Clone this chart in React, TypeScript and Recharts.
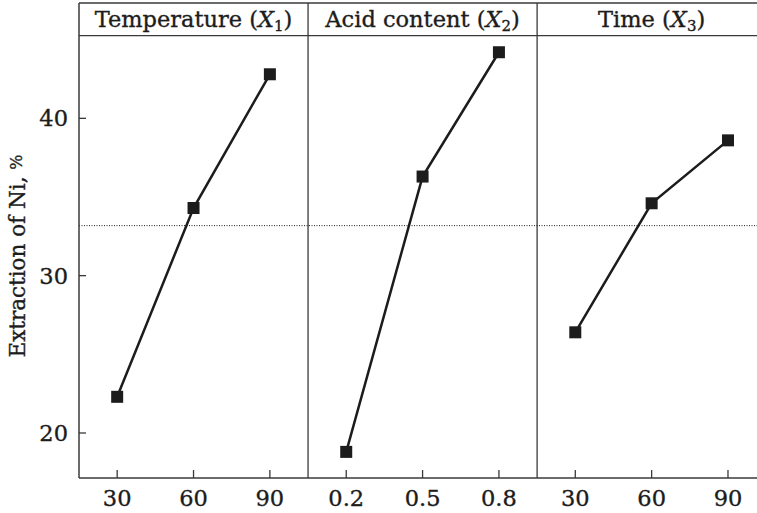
import { ComposedChart, Line, XAxis, YAxis, ReferenceLine, ReferenceArea } from 'recharts';

const tempLevels = ['30', '60', '90'];
const tempValues = [22.3, 34.3, 42.8];
const acidLevels = ['0.2', '0.5', '0.8'];
const acidValues = [18.8, 36.3, 44.2];
const timeLevels = ['30', '60', '90'];
const timeValues = [26.4, 34.6, 38.6];

const meanExtraction = 33.18;
const yTicks = [20, 30, 40];

const panels = [
  { key: 'temp', name: 'Temperature', sub: '1', levels: tempLevels, values: tempValues },
  { key: 'acid', name: 'Acid content', sub: '2', levels: acidLevels, values: acidValues },
  { key: 'time', name: 'Time', sub: '3', levels: timeLevels, values: timeValues },
];

const allLevels = panels.flatMap((p) => p.levels);
const rows = panels.flatMap((p, pi) =>
  p.levels.map((_, i) => ({ pos: pi * 3 + i + 0.5, [p.key]: p.values[i] }))
);

const Y_MIN = 17.14;
const Y_MAX = 47.33;
const HEADER_Y = 45.26;
const X_MAX = 8.88;

const FONT = '"DejaVu Serif", "Liberation Serif", serif';
const INK = '#1c1c1c';
const AXIS = '#3a3a3a';

// slight outline so the serif text looks as heavy as the printed figure
const heavy = { stroke: INK, strokeWidth: 0.35 };

function SquareDot(props: any) {
  const { cx, cy } = props;
  if (cx == null || cy == null) return null;
  return <rect x={cx - 6} y={cy - 6} width={12} height={12} fill={INK} />;
}

function YTick(props: any) {
  const { x, y, payload } = props;
  return (
    <g>
      <line x1={x + 11} x2={x + 18} y1={y} y2={y} stroke={AXIS} strokeWidth={1.3} />
      <text x={x} y={y} dy="0.36em" textAnchor="end" fontFamily={FONT} fontSize={22.5} fill={INK} {...heavy}>
        {payload.value}
      </text>
    </g>
  );
}

function XTick(props: any) {
  const { x, y, payload } = props;
  const label = allLevels[Math.floor(payload.value)];
  return (
    <g>
      <line x1={x} x2={x} y1={y - 20} y2={y - 28} stroke={AXIS} strokeWidth={1.3} />
      <text x={x} y={y} dy="0.36em" textAnchor="middle" fontFamily={FONT} fontSize={22.5} fill={INK} {...heavy}>
        {label}
      </text>
    </g>
  );
}

function HeaderText({ viewBox, name, sub }: any) {
  if (!viewBox) return null;
  const cx = viewBox.x + viewBox.width / 2;
  const cy = viewBox.y + viewBox.height / 2;
  return (
    <text x={cx} y={cy} dy="0.36em" textAnchor="middle" fontFamily={FONT} fontSize={22.5} fill={INK} {...heavy}>
      <tspan>{name} (</tspan>
      <tspan fontStyle="italic">X</tspan>
      <tspan fontSize={15} dy={4}>{sub}</tspan>
      <tspan dy={-4}>)</tspan>
    </text>
  );
}

function YLabel({ viewBox }: any) {
  if (!viewBox) return null;
  const x = 17;
  const y = 256;
  return (
    <text
      x={x}
      y={y}
      transform={`rotate(-90 ${x} ${y})`}
      dy="0.36em"
      textAnchor="middle"
      fontFamily={FONT}
      fontSize={21.5}
      fill={INK}
      {...heavy}
    >
      <tspan>Extraction of Ni, </tspan>
      <tspan fontSize={16} dy={-3}>%</tspan>
    </text>
  );
}

export default function App() {
  return (
    <div style={{ position: 'absolute', left: 0, top: 0, width: 757, height: 513, background: '#fff' }}>
      <ComposedChart width={757} height={513} data={rows} margin={{ top: 3, right: 0, bottom: 0, left: 0 }}>
        <XAxis
          dataKey="pos"
          type="number"
          domain={[0, X_MAX]}
          ticks={[0.5, 1.5, 2.5, 3.5, 4.5, 5.5, 6.5, 7.5, 8.5]}
          allowDataOverflow
          height={35}
          tickLine={false}
          tickSize={0}
          tickMargin={20}
          axisLine={{ stroke: AXIS, strokeWidth: 1.5 }}
          tick={<XTick />}
          interval={0}
        />
        <YAxis
          type="number"
          domain={[Y_MIN, Y_MAX]}
          ticks={yTicks}
          allowDataOverflow
          width={79}
          tickLine={false}
          tickSize={0}
          tickMargin={11}
          axisLine={{ stroke: AXIS, strokeWidth: 1.5 }}
          tick={<YTick />}
          label={{ content: (p: any) => <YLabel viewBox={p.viewBox} /> }}
        />
        <ReferenceLine y={Y_MAX} stroke={AXIS} strokeWidth={1.5} />
        <ReferenceLine y={HEADER_Y} stroke={AXIS} strokeWidth={1.3} />
        <ReferenceLine x={3} stroke={AXIS} strokeWidth={1.3} />
        <ReferenceLine x={6} stroke={AXIS} strokeWidth={1.3} />
        <ReferenceLine y={meanExtraction} stroke={INK} strokeWidth={1} strokeDasharray="1 1.5" />
        {panels.map((p, pi) => (
          <ReferenceArea
            key={`h-${p.key}`}
            x1={pi * 3}
            x2={pi * 3 + 3}
            y1={HEADER_Y}
            y2={Y_MAX}
            fill="none"
            stroke="none"
            ifOverflow="visible"
            label={{ content: (lp: any) => <HeaderText viewBox={lp.viewBox} name={p.name} sub={p.sub} /> }}
          />
        ))}
        {panels.map((p) => (
          <Line
            key={p.key}
            dataKey={p.key}
            type="linear"
            stroke={INK}
            strokeWidth={2.5}
            dot={<SquareDot />}
            activeDot={false}
            isAnimationActive={false}
          />
        ))}
      </ComposedChart>
    </div>
  );
}
